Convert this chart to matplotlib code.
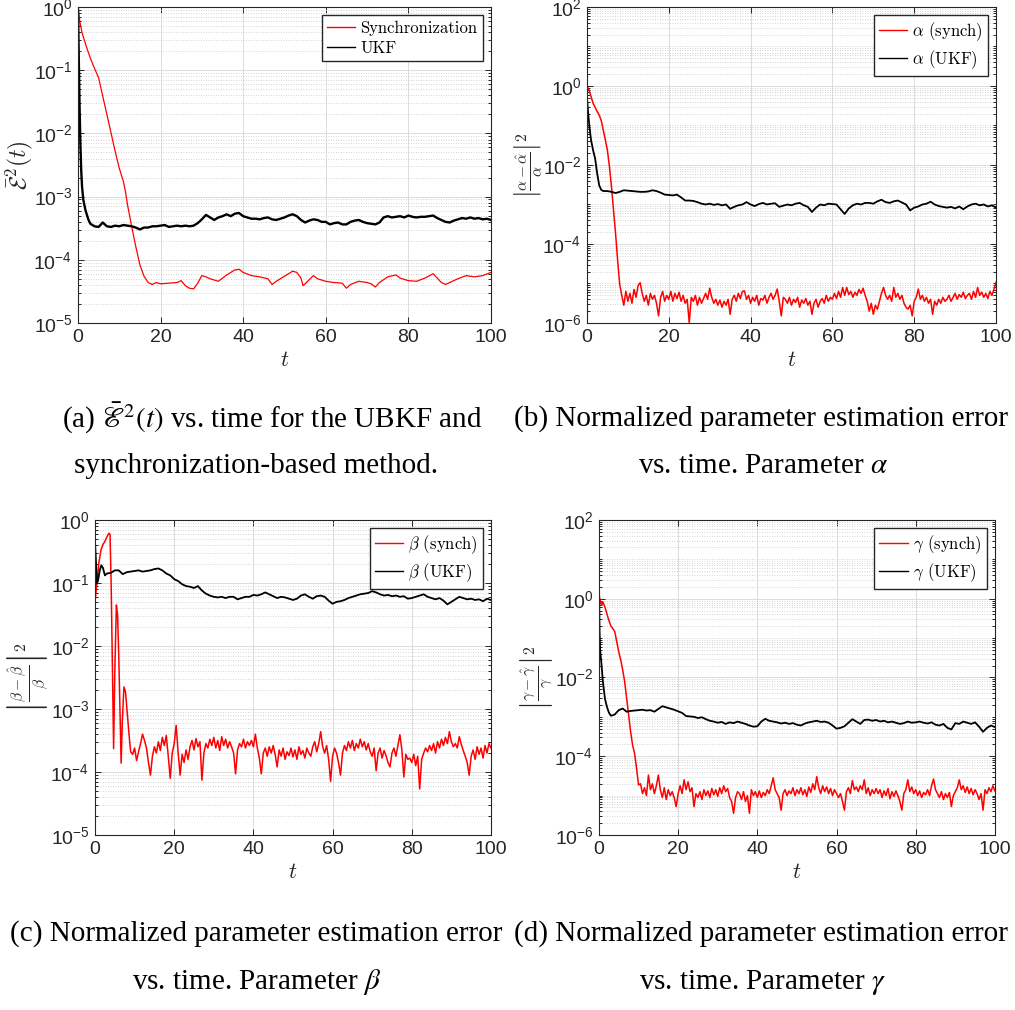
import numpy as np
import matplotlib
matplotlib.use("Agg")
import matplotlib.pyplot as plt
from matplotlib.ticker import FixedLocator, LogLocator, LogFormatterSciNotation, NullFormatter

plt.rcParams["font.family"] = ["Liberation Sans", "DejaVu Sans"]
plt.rcParams["mathtext.fontset"] = "cm"

# all error values are stored as log10 of the plotted quantity

# (a) mean squared synchronisation error
a_sync_t = [0, 0.5, 1, 2, 3, 4, 5, 6, 7, 8, 9, 10, 11, 11.5, 12, 13, 14, 15, 16, 17,
            18, 19, 20, 22, 24, 25, 26, 27, 28, 29, 30, 31, 32, 34, 36, 38, 39, 40, 42, 44,
            46, 47, 48, 50, 52, 53, 54, 54.5, 55, 57, 58, 60, 62, 64, 65, 66, 68, 70, 71, 72,
            73, 75, 77, 78, 80, 82, 84, 86, 87, 88, 89, 90, 92, 94, 96, 98, 100]
a_sync_log = [0, -0.25, -0.41, -0.62, -0.81, -0.97, -1.12, -1.41, -1.70, -1.99,
              -2.28, -2.55, -2.76, -2.92, -3.13, -3.47, -3.79, -4.08, -4.26, -4.36,
              -4.39, -4.36, -4.38, -4.37, -4.36, -4.33, -4.41, -4.45, -4.46, -4.37,
              -4.25, -4.27, -4.30, -4.34, -4.24, -4.16, -4.15, -4.20, -4.25, -4.27,
              -4.30, -4.39, -4.34, -4.26, -4.18, -4.20, -4.29, -4.41, -4.38, -4.25,
              -4.30, -4.34, -4.36, -4.37, -4.45, -4.39, -4.34, -4.36, -4.38, -4.43,
              -4.36, -4.27, -4.24, -4.29, -4.33, -4.34, -4.29, -4.22, -4.29, -4.36,
              -4.39, -4.36, -4.30, -4.25, -4.27, -4.25, -4.20]

a_ukf_t = [0, 0.2, 0.4, 0.6, 0.8, 1.0, 1.3, 1.8, 2.5, 3] + list(range(4, 101))
a_ukf_log = [0, -0.8, -1.6, -2.2, -2.6, -2.85, -3.05, -3.21, -3.36, -3.43,
             -3.47, -3.48, -3.41, -3.47, -3.48, -3.46, -3.47, -3.45, -3.46, -3.47,
             -3.49, -3.52, -3.49, -3.49, -3.47, -3.47, -3.46, -3.45, -3.48, -3.47,
             -3.46, -3.47, -3.46, -3.47, -3.46, -3.42, -3.36, -3.29, -3.33, -3.37,
             -3.33, -3.31, -3.28, -3.31, -3.27, -3.26, -3.31, -3.33, -3.35, -3.35,
             -3.36, -3.34, -3.33, -3.36, -3.37, -3.35, -3.33, -3.30, -3.28, -3.31,
             -3.37, -3.41, -3.38, -3.36, -3.37, -3.40, -3.40, -3.44, -3.42, -3.41,
             -3.44, -3.44, -3.40, -3.38, -3.37, -3.40, -3.42, -3.43, -3.44, -3.41,
             -3.33, -3.31, -3.33, -3.32, -3.31, -3.33, -3.30, -3.32, -3.33, -3.32,
             -3.32, -3.31, -3.30, -3.34, -3.37, -3.40, -3.41, -3.38, -3.36, -3.34,
             -3.35, -3.33, -3.35, -3.34, -3.36, -3.35, -3.37]

# (b) alpha
b_sync_t = [0, 0.5, 1, 1.5, 2, 2.5, 3, 3.5, 4, 4.5, 5, 5.5, 6, 6.5, 7, 7.5, 8]
b_sync_log = [0.0, -0.10, -0.27, -0.44, -0.54, -0.65, -0.74, -0.88, -1.12, -1.37,
              -1.63, -2.05, -2.56, -3.15, -3.75, -4.42, -5.02]
b_sync_noise_t0 = 8.5  # then every 0.5
b_sync_noise = [-5.30, -5.55, -5.20, -5.45, -5.25, -5.50, -5.15, -5.35, -5.05, -4.98,
                -5.25, -5.45, -5.30, -5.55, -5.25, -5.40, -5.30, -5.50, -5.82, -5.35,
                -5.20, -5.45, -5.30, -5.40, -5.20, -5.45, -5.25, -5.38, -5.22, -5.45,
                -5.30, -5.50, -5.40, -5.99, -5.35, -5.45, -5.30, -5.55, -5.35, -5.50,
                -5.38, -5.25, -5.40, -5.12, -5.35, -5.50, -5.40, -5.55, -5.42, -5.60,
                -5.45, -5.55, -5.40, -5.78, -5.40, -5.30, -5.45, -5.25, -5.38, -5.20,
                -5.19, -5.40, -5.30, -5.50, -5.35, -5.45, -5.30, -5.55, -5.38, -5.42,
                -5.30, -5.50, -5.35, -5.25, -5.40, -5.30, -5.14, -5.45, -5.82, -5.35,
                -5.40, -5.50, -5.35, -5.55, -5.40, -5.48, -5.35, -5.60, -5.42, -5.50,
                -5.38, -5.55, -5.45, -5.78, -5.50, -5.40, -5.60, -5.45, -5.38, -5.50,
                -5.30, -5.45, -5.35, -5.40, -5.25, -5.38, -5.20, -5.35, -5.10, -5.30,
                -5.10, -5.28, -5.20, -5.35, -5.22, -5.30, -5.15, -5.25, -5.12, -5.30,
                -5.45, -5.70, -5.50, -5.78, -5.55, -5.65, -5.45, -5.25, -5.10, -5.30,
                -5.40, -5.30, -5.45, -5.10, -5.35, -5.25, -5.40, -5.30, -5.50, -5.60,
                -5.65, -5.55, -5.82, -5.45, -5.35, -5.14, -5.40, -5.30, -5.45, -5.35,
                -5.50, -5.40, -5.78, -5.45, -5.55, -5.40, -5.50, -5.35, -5.45, -5.40,
                -5.30, -5.45, -5.35, -5.25, -5.40, -5.28, -5.35, -5.22, -5.38, -5.30,
                -5.25, -5.40, -5.20, -5.35, -5.10, -5.30, -5.22, -5.35, -5.25, -5.38,
                -5.20, -5.30, -5.15, -4.97]

b_ukf_t = [0, 0.3, 0.6, 1, 1.5, 2, 2.5, 3, 3.5] + list(range(4, 101))
b_ukf_log = [-0.3, -0.7, -1.03, -1.37, -1.63, -1.84, -2.22, -2.52, -2.63,
             -2.66, -2.66, -2.68, -2.71, -2.68, -2.64, -2.65, -2.66, -2.67, -2.68,
             -2.68, -2.67, -2.64, -2.66, -2.70, -2.75, -2.76, -2.77, -2.75, -2.82,
             -2.90, -2.90, -2.91, -2.94, -2.98, -3.00, -2.98, -3.01, -2.99, -3.02,
             -3.00, -3.11, -3.06, -3.02, -3.00, -2.94, -3.00, -3.04, -2.99, -2.96,
             -3.00, -2.98, -2.97, -3.06, -3.03, -3.00, -3.02, -2.98, -2.96, -3.02,
             -3.06, -3.19, -3.08, -3.00, -3.02, -2.98, -2.99, -3.00, -3.12, -3.24,
             -3.10, -3.02, -2.98, -3.00, -2.96, -2.96, -2.98, -2.92, -2.88, -2.94,
             -2.96, -2.92, -2.90, -2.95, -3.00, -3.15, -3.08, -3.05, -3.00, -2.98,
             -2.93, -3.00, -3.04, -3.06, -3.08, -3.06, -3.10, -3.05, -3.12, -3.05,
             -3.00, -2.98, -3.02, -3.00, -3.05, -3.02, -3.08]

# (c) beta
c_sync_t = [0, 0.5, 1, 1.5, 2, 2.5, 3, 3.5, 3.8, 4.1, 4.4, 4.7, 5.0, 5.4, 5.7, 6.0,
            6.3, 6.6, 6.9, 7.3, 7.7, 8.1, 8.6, 9.0]
c_sync_log = [-1.30, -0.98, -0.67, -0.48, -0.39, -0.34, -0.27, -0.21, -0.23, -1.09,
              -2.41, -3.63, -2.41, -1.35, -1.51, -2.15, -3.04, -3.86, -3.20, -2.65,
              -2.73, -3.04, -3.41, -3.68]
c_sync_noise_t0 = 9.5
c_sync_noise = [-3.72, -3.62, -3.82, -3.68, -3.55, -3.40, -3.50, -3.62, -3.85, -4.05,
                -3.75, -3.60, -3.70, -3.52, -3.66, -3.45, -3.58, -3.42, -3.75, -4.10,
                -3.70, -3.55, -3.26, -3.70, -4.05, -3.72, -3.85, -3.65, -3.80, -3.60,
                -3.50, -3.65, -3.47, -3.60, -3.52, -4.13, -3.70, -3.55, -3.62, -3.48,
                -3.58, -3.45, -3.62, -3.50, -3.66, -3.44, -3.58, -3.48, -3.62, -3.52,
                -3.60, -3.70, -4.03, -3.65, -3.55, -3.60, -3.48, -3.62, -3.52, -3.58,
                -3.50, -3.60, -3.40, -3.62, -3.78, -4.03, -3.70, -3.62, -3.75, -3.60,
                -3.70, -3.58, -3.72, -3.92, -3.65, -3.75, -3.62, -3.80, -3.68, -3.74,
                -3.62, -3.76, -3.65, -3.80, -3.60, -3.72, -3.66, -3.78, -3.62, -3.70,
                -3.75, -3.60, -3.52, -3.68, -3.55, -3.36, -3.60, -3.70, -3.58, -3.80,
                -4.15, -3.75, -3.62, -3.70, -3.85, -4.05, -3.70, -3.58, -3.66, -3.52,
                -3.62, -3.50, -3.66, -3.55, -3.62, -3.48, -3.60, -3.52, -3.65, -3.55,
                -3.68, -3.75, -3.62, -3.98, -3.70, -3.62, -3.78, -3.66, -3.74, -3.85,
                -3.92, -3.70, -3.62, -3.75, -3.58, -3.41, -3.65, -4.08, -3.72, -3.80,
                -3.78, -3.85, -3.72, -3.90, -3.75, -4.27, -3.80, -3.70, -3.62, -3.68,
                -3.58, -3.66, -3.55, -3.70, -3.52, -3.62, -3.48, -3.58, -3.45, -3.55,
                -3.36, -3.52, -3.60, -3.55, -3.62, -3.44, -3.56, -3.66, -3.75, -3.85,
                -4.05, -3.75, -3.65, -3.80, -3.60, -3.72, -3.62, -3.78, -3.58, -3.70,
                -3.55, -3.62]

c_ukf_t = [0, 0.2, 0.5, 0.8, 1.2, 1.6, 2.0, 2.5, 3] + list(range(4, 101))
c_ukf_log = [-0.35, -0.6, -1.01, -0.95, -0.80, -0.72, -0.76, -0.88, -0.85,
             -0.84, -0.80, -0.80, -0.86, -0.83, -0.82, -0.81, -0.80, -0.82, -0.81,
             -0.80, -0.78, -0.77, -0.80, -0.85, -0.88, -0.94, -0.97, -1.02, -1.05,
             -1.06, -1.08, -1.05, -1.12, -1.17, -1.20, -1.22, -1.23, -1.22, -1.24,
             -1.22, -1.22, -1.26, -1.24, -1.22, -1.22, -1.19, -1.20, -1.18, -1.15,
             -1.18, -1.21, -1.24, -1.22, -1.23, -1.25, -1.27, -1.25, -1.20, -1.18,
             -1.22, -1.25, -1.21, -1.20, -1.22, -1.28, -1.33, -1.30, -1.29, -1.27,
             -1.24, -1.22, -1.20, -1.18, -1.17, -1.16, -1.13, -1.15, -1.18, -1.20,
             -1.19, -1.21, -1.20, -1.22, -1.21, -1.25, -1.24, -1.22, -1.20, -1.18,
             -1.22, -1.24, -1.26, -1.24, -1.28, -1.34, -1.30, -1.26, -1.22, -1.24,
             -1.26, -1.25, -1.27, -1.26, -1.29, -1.25, -1.27]

# (d) gamma
d_sync_t = [0, 0.3, 0.7, 1, 1.5, 2, 2.5, 3, 3.5, 4, 4.5, 5, 5.5, 6, 6.5, 7, 7.5, 8,
            8.5, 9, 9.5, 10]
d_sync_log = [0.09, -0.04, -0.16, -0.08, -0.21, -0.38, -0.55, -0.69, -0.76, -0.84,
              -1.10, -1.35, -1.56, -1.81, -2.11, -2.53, -2.96, -3.38, -3.72, -3.93,
              -4.31, -4.73]
d_sync_noise_t0 = 10.5
d_sync_noise = [-4.70, -4.95, -4.80, -5.00, -4.48, -4.85, -4.70, -4.95, -4.75, -4.48,
                -4.85, -5.05, -4.80, -5.10, -4.85, -5.00, -4.90, -5.05, -5.28, -4.95,
                -4.75, -4.95, -4.60, -4.85, -4.65, -4.90, -4.80, -5.28, -4.95, -5.05,
                -4.90, -5.10, -4.85, -5.00, -4.88, -5.05, -4.82, -4.98, -4.85, -5.02,
                -4.80, -4.95, -4.75, -4.90, -4.82, -5.05, -5.15, -5.45, -5.05, -4.90,
                -4.95, -5.10, -4.90, -5.15, -5.00, -5.45, -4.85, -5.00, -4.90, -5.05,
                -4.88, -5.05, -4.92, -5.00, -4.85, -4.95, -4.75, -4.55, -4.85, -4.95,
                -5.05, -5.37, -4.95, -4.85, -5.00, -4.88, -4.95, -4.80, -5.00, -4.85,
                -4.95, -4.80, -4.98, -4.85, -5.02, -4.78, -4.92, -4.70, -4.85, -4.52,
                -4.80, -4.95, -4.75, -4.90, -4.78, -4.95, -4.82, -5.00, -4.85, -4.95,
                -5.05, -4.95, -5.15, -5.37, -4.90, -4.80, -4.95, -4.62, -4.85, -4.78,
                -4.90, -4.75, -4.85, -4.60, -4.95, -4.80, -5.00, -4.85, -4.95, -4.82,
                -4.95, -4.85, -5.05, -4.88, -5.00, -4.82, -5.08, -4.90, -5.02, -4.88,
                -5.00, -5.15, -5.37, -4.95, -4.85, -4.60, -4.90, -4.78, -4.95, -4.85,
                -5.00, -4.88, -5.05, -4.92, -4.98, -4.85, -5.00, -4.75, -4.58, -4.85,
                -4.95, -5.05, -4.90, -5.10, -4.95, -5.05, -4.92, -5.28, -5.00, -4.90,
                -4.80, -4.60, -4.85, -4.75, -4.92, -4.78, -4.95, -4.82, -4.98, -4.85,
                -4.95, -5.10, -4.95, -5.37, -4.85, -4.95, -4.80, -4.90, -4.75, -4.88]

d_ukf_t = [0, 0.15, 0.3, 0.6, 1, 1.5, 2, 2.5, 3, 3.5] + list(range(4, 101))
d_ukf_log = [0.5, -0.8, -1.3, -1.62, -2.11, -2.53, -2.74, -2.89, -2.97, -2.96,
             -2.94, -2.83, -2.79, -2.87, -2.85, -2.84, -2.83, -2.82, -2.84, -2.83,
             -2.87, -2.80, -2.73, -2.76, -2.79, -2.82, -2.86, -2.90, -2.98, -2.99,
             -3.00, -3.03, -3.01, -3.06, -3.10, -3.12, -3.15, -3.13, -3.18, -3.14,
             -3.16, -3.12, -3.15, -3.18, -3.22, -3.25, -3.24, -3.12, -3.05, -3.10,
             -3.12, -3.14, -3.17, -3.15, -3.18, -3.16, -3.20, -3.22, -3.17, -3.14,
             -3.12, -3.10, -3.13, -3.12, -3.15, -3.22, -3.30, -3.28, -3.24, -3.15,
             -3.06, -3.12, -3.18, -3.08, -3.07, -3.10, -3.08, -3.12, -3.10, -3.14,
             -3.12, -3.15, -3.18, -3.16, -3.12, -3.15, -3.14, -3.12, -3.15, -3.17,
             -3.14, -3.20, -3.22, -3.18, -3.28, -3.32, -3.16, -3.18, -3.12, -3.15,
             -3.18, -3.14, -3.25, -3.38, -3.28, -3.22, -3.26]

captions = [
    (r"(a) $\bar{\mathscr{E}}^2(t)$ vs. time for the UBKF and", "synchronization-based method."),
    ("(b) Normalized parameter estimation error", r"vs. time. Parameter $\alpha$"),
    ("(c) Normalized parameter estimation error", r"vs. time. Parameter $\beta$"),
    ("(d) Normalized parameter estimation error", r"vs. time. Parameter $\gamma$"),
]

DARK = "#262626"


def join(t_early, log_early, t0=None, noise=None):
    t = list(t_early)
    v = list(log_early)
    if noise is not None:
        t += list(t0 + 0.5 * np.arange(len(noise)))
        v += list(noise)
    return np.array(t), 10.0 ** np.array(v)


def style(ax, ylim, yticks, ylabel, ylab_x, ylab_size):
    ax.set_yscale("log")
    ax.set_xlim(0, 100)
    ax.set_ylim(*ylim)
    ax.set_xticks([0, 20, 40, 60, 80, 100])
    ax.yaxis.set_major_locator(FixedLocator(yticks))
    ax.yaxis.set_major_formatter(LogFormatterSciNotation())
    ax.yaxis.set_minor_locator(LogLocator(base=10, subs=np.arange(1, 10), numticks=100))
    ax.yaxis.set_minor_formatter(NullFormatter())
    ax.grid(True, which="major", color="#dcdcdc", lw=0.7, zorder=0)
    ax.grid(True, which="minor", axis="y", color="#c4c4c4", ls=(0, (1, 2)), lw=0.6, zorder=0)
    ax.set_axisbelow(True)
    ax.tick_params(which="both", direction="in", top=True, right=True,
                   color=DARK, labelcolor=DARK, labelsize=14, width=0.7)
    ax.tick_params(which="major", length=4, pad=4)
    ax.tick_params(which="minor", length=2)
    for s in ax.spines.values():
        s.set_color(DARK)
        s.set_linewidth(0.8)
    ax.set_xlabel(r"$t$", fontsize=16, color=DARK)
    ax.xaxis.set_label_coords(0.5, -0.085)
    ax.set_ylabel(ylabel, fontsize=ylab_size, color=DARK)
    ax.yaxis.set_label_coords(ylab_x, 0.5)


fig = plt.figure(figsize=(10.15, 10.10), dpi=100)
ax_a = fig.add_axes([0.0768, 0.6802, 0.4069, 0.3129])
ax_b = fig.add_axes([0.5783, 0.6802, 0.4030, 0.3129])
ax_c = fig.add_axes([0.0936, 0.1733, 0.3901, 0.3119])
ax_d = fig.add_axes([0.5901, 0.1733, 0.3901, 0.3119])

leg_kw = dict(loc="upper right", prop={"family": "cmr10", "size": 12}, frameon=True,
              fancybox=False, edgecolor=DARK, framealpha=1, handlelength=1.7,
              borderaxespad=0.5, labelspacing=0.3, borderpad=0.3, handletextpad=0.3)

# (a)
t, y = join(a_sync_t, a_sync_log)
ax_a.plot(t, y, color="red", lw=0.9, label=r"Synchronization")
t, y = join(a_ukf_t, a_ukf_log)
ax_a.plot(t, y, color="black", lw=1.7, label=r"UKF")
style(ax_a, (1e-5, 1e0), [1e-5, 1e-4, 1e-3, 1e-2, 1e-1, 1e0],
      r"$\bar{\mathcal{E}}^2(t)$", -0.105, 17)
leg = ax_a.legend(**leg_kw)
for line in leg.get_lines():
    line.set_linewidth(1.0)

# (b)
t, y = join(b_sync_t, b_sync_log, b_sync_noise_t0, b_sync_noise)
ax_b.plot(t, y, color="red", lw=1.1, label=r"$\alpha$ (synch)")
t, y = join(b_ukf_t, b_ukf_log)
ax_b.plot(t, y, color="black", lw=1.3, label=r"$\alpha$ (UKF)")
style(ax_b, (1e-6, 1e2), [1e-6, 1e-4, 1e-2, 1e0, 1e2],
      r"$\left|\frac{\alpha-\hat{\alpha}}{\alpha}\right|^2$", -0.105, 16)
leg = ax_b.legend(**leg_kw)
for line in leg.get_lines():
    line.set_linewidth(1.0)

# (c)
t, y = join(c_sync_t, c_sync_log, c_sync_noise_t0, c_sync_noise)
ax_c.plot(t, y, color="red", lw=1.1, label=r"$\beta$ (synch)")
t, y = join(c_ukf_t, c_ukf_log)
ax_c.plot(t, y, color="black", lw=1.3, label=r"$\beta$ (UKF)")
style(ax_c, (1e-5, 1e0), [1e-5, 1e-4, 1e-3, 1e-2, 1e-1, 1e0],
      r"$\left|\frac{\beta-\hat{\beta}}{\beta}\right|^2$", -0.112, 16)
leg = ax_c.legend(**leg_kw)
for line in leg.get_lines():
    line.set_linewidth(1.0)

# (d)
t, y = join(d_sync_t, d_sync_log, d_sync_noise_t0, d_sync_noise)
ax_d.plot(t, y, color="red", lw=1.1, label=r"$\gamma$ (synch)")
t, y = join(d_ukf_t, d_ukf_log)
ax_d.plot(t, y, color="black", lw=1.3, label=r"$\gamma$ (UKF)")
style(ax_d, (1e-6, 1e2), [1e-6, 1e-4, 1e-2, 1e0, 1e2],
      r"$\left|\frac{\gamma-\hat{\gamma}}{\gamma}\right|^2$", -0.110, 16)
leg = ax_d.legend(**leg_kw)
for line in leg.get_lines():
    line.set_linewidth(1.0)

# captions under each panel
cap_pos = [((0.268, 0.5861), (0.252, 0.5386)),
           ((0.750, 0.5861), (0.752, 0.5386)),
           ((0.252, 0.0762), (0.253, 0.0277)),
           ((0.750, 0.0762), (0.751, 0.0277))]
for (l1, l2), (p1, p2) in zip(captions, cap_pos):
    fig.text(p1[0], p1[1], l1, ha="center", va="center", family="Liberation Serif",
             fontsize=21, math_fontfamily="stix")
    fig.text(p2[0], p2[1], l2, ha="center", va="center", family="Liberation Serif",
             fontsize=21, math_fontfamily="stix")

fig.savefig("out.png", dpi=100)
